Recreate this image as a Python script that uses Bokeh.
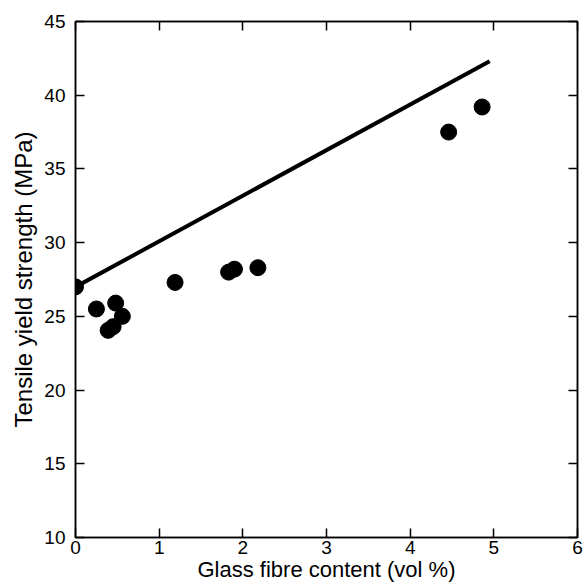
from bokeh.plotting import figure
from bokeh.models import Range1d, LinearAxis, FixedTicker
from bokeh.embed import file_html
from bokeh.resources import INLINE

fibre_content = [0.0, 0.25, 0.39, 0.45, 0.48, 0.56, 1.19, 1.83, 1.90, 2.18, 4.46, 4.86]
yield_strength = [27.0, 25.5, 24.05, 24.3, 25.9, 25.0, 27.3, 28.0, 28.2, 28.3, 37.5, 39.2]

line_x = [0.0, 4.95]
line_y = [27.0, 42.3]

x_ticks = [0, 1, 2, 3, 4, 5, 6]
y_ticks = [10, 15, 20, 25, 30, 35, 40, 45]

FONT = "Liberation Sans"

p = figure(width=584, height=586, output_backend="svg", toolbar_location=None,
           x_range=Range1d(0, 6), y_range=Range1d(10, 45),
           min_border_left=75, min_border_right=7, min_border_top=21, min_border_bottom=49,
           x_axis_label="Glass fibre content (vol %)",
           y_axis_label="Tensile yield strength (MPa)")
p.grid.visible = False
p.outline_line_color = "black"
p.outline_line_width = 1.5
p.background_fill_color = "white"
p.border_fill_color = "white"

def style(ax, labels=True):
    ax.axis_line_color = "black"
    ax.axis_line_width = 1.5
    ax.major_tick_in = 9
    ax.major_tick_out = 0
    ax.major_tick_line_width = 1.5
    ax.minor_tick_line_color = None
    if labels:
        ax.major_label_text_font = FONT
        ax.major_label_text_font_size = "19px"
        ax.major_label_text_color = "black"
        ax.axis_label_text_font = FONT
        ax.axis_label_text_font_size = "22px"
        ax.axis_label_text_font_style = "normal"
        ax.axis_label_text_color = "black"
    else:
        ax.major_label_text_color = None
        ax.major_label_standoff = 0

p.xaxis.ticker = FixedTicker(ticks=x_ticks)
p.yaxis.ticker = FixedTicker(ticks=y_ticks)
style(p.xaxis[0])
style(p.yaxis[0])
p.yaxis.axis_label_text_font_size = "24px"
p.xaxis.major_label_standoff = 3
p.xaxis.axis_label_standoff = 0
p.yaxis.major_label_standoff = 10
p.yaxis.axis_label_standoff = 4

top = LinearAxis(ticker=FixedTicker(ticks=x_ticks))
style(top, labels=False)
p.add_layout(top, "above")
right = LinearAxis(ticker=FixedTicker(ticks=y_ticks))
style(right, labels=False)
p.add_layout(right, "right")

p.line(line_x, line_y, line_color="black", line_width=4)
p.scatter(fibre_content, yield_strength, size=16, fill_color="black", line_color="black")

open("out.html", "w").write(file_html(p, INLINE))
